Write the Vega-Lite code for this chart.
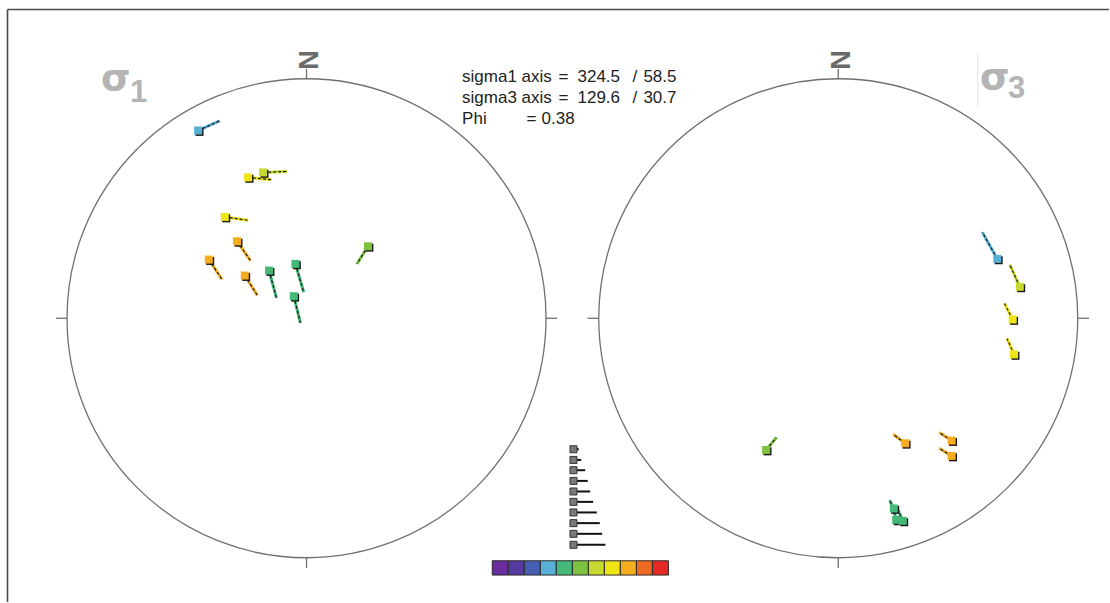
{
  "$schema": "https://vega.github.io/schema/vega-lite/v6.json",
  "width": 1110,
  "height": 603,
  "autosize": {"type": "fit", "contains": "padding"},
  "padding": 0,
  "background": "white",
  "config": {"view": {"stroke": null}},
  "datasets": {
    "frame": [
      {"x": 7.5, "y": 9.5, "x2": 1110, "y2": 9.5},
      {"x": 7.5, "y": 9.5, "x2": 7.5, "y2": 603}
    ],
    "circles": [
      {"net": "sigma1", "x": 306.8, "y": 318.8},
      {"net": "sigma3", "x": 839, "y": 318.8}
    ],
    "ticks": [
      {"x": 306.8, "y": 79.5, "x2": 306.8, "y2": 69},
      {"x": 56, "y": 318.8, "x2": 67.3, "y2": 318.8},
      {"x": 546.3, "y": 318.8, "x2": 557.5, "y2": 318.8},
      {"x": 306.8, "y": 558.3, "x2": 306.8, "y2": 569},
      {"x": 839, "y": 79.5, "x2": 839, "y2": 69},
      {"x": 588, "y": 318.8, "x2": 599.5, "y2": 318.8},
      {"x": 1078.5, "y": 318.8, "x2": 1090, "y2": 318.8},
      {"x": 839, "y": 558.3, "x2": 839, "y2": 569}
    ],
    "north": [
      {"x": 307.5, "y": 60, "t": "N"},
      {"x": 839.5, "y": 60, "t": "N"}
    ],
    "sigma": [
      {"x": 101, "y": 90, "t": "σ"},
      {"x": 981, "y": 89, "t": "σ"}
    ],
    "sub": [
      {"x": 130, "y": 102, "t": "1"},
      {"x": 1009, "y": 98, "t": "3"}
    ],
    "divider": [
      {"x": 978.6, "y": 53, "x2": 978.6, "y2": 107}
    ],
    "info": [
      {"x": 462.5, "y": 82, "t": "sigma1 axis"},
      {"x": 559, "y": 82, "t": "="},
      {"x": 578, "y": 82, "t": "324.5"},
      {"x": 633, "y": 82, "t": "/"},
      {"x": 644, "y": 82, "t": "58.5"},
      {"x": 462.5, "y": 103, "t": "sigma3 axis"},
      {"x": 559, "y": 103, "t": "="},
      {"x": 578, "y": 103, "t": "129.6"},
      {"x": 633, "y": 103, "t": "/"},
      {"x": 644, "y": 103, "t": "30.7"},
      {"x": 462.5, "y": 124, "t": "Phi"},
      {"x": 527, "y": 124, "t": "="},
      {"x": 542, "y": 124, "t": "0.38"}
    ],
    "poles": [
      {"net": "sigma1", "cls": 4, "x": 198.3, "y": 130.7, "x2": 220, "y2": 121},
      {"net": "sigma1", "cls": 8, "x": 248.3, "y": 177.7, "x2": 271.7, "y2": 180},
      {"net": "sigma1", "cls": 7, "x": 263.3, "y": 172.7, "x2": 287.3, "y2": 171.7},
      {"net": "sigma1", "cls": 8, "x": 225, "y": 217.3, "x2": 248.3, "y2": 220.7},
      {"net": "sigma1", "cls": 9, "x": 237.3, "y": 241.7, "x2": 250.7, "y2": 261},
      {"net": "sigma1", "cls": 9, "x": 209, "y": 260, "x2": 222.3, "y2": 280},
      {"net": "sigma1", "cls": 9, "x": 245, "y": 276, "x2": 257.7, "y2": 296},
      {"net": "sigma1", "cls": 5, "x": 269.3, "y": 271, "x2": 276.7, "y2": 298.3},
      {"net": "sigma1", "cls": 5, "x": 295.7, "y": 264.3, "x2": 304, "y2": 292.7},
      {"net": "sigma1", "cls": 5, "x": 294, "y": 296.7, "x2": 300.7, "y2": 323.3},
      {"net": "sigma1", "cls": 6, "x": 368.3, "y": 246.7, "x2": 357.3, "y2": 264.3},
      {"net": "sigma3", "cls": 4, "x": 998.2, "y": 259.3, "x2": 983.2, "y2": 232.7},
      {"net": "sigma3", "cls": 7, "x": 1020.7, "y": 287.3, "x2": 1010.7, "y2": 265},
      {"net": "sigma3", "cls": 8, "x": 1013.6, "y": 320, "x2": 1005.4, "y2": 304},
      {"net": "sigma3", "cls": 8, "x": 1015, "y": 355, "x2": 1007.9, "y2": 339.3},
      {"net": "sigma3", "cls": 6, "x": 766.8, "y": 450.7, "x2": 777.1, "y2": 438.3},
      {"net": "sigma3", "cls": 9, "x": 906, "y": 444, "x2": 893.9, "y2": 435},
      {"net": "sigma3", "cls": 9, "x": 952.5, "y": 441.3, "x2": 940, "y2": 433.3},
      {"net": "sigma3", "cls": 9, "x": 952.5, "y": 456.7, "x2": 940, "y2": 449},
      {"net": "sigma3", "cls": 5, "x": 894.6, "y": 509.3, "x2": 890.4, "y2": 501},
      {"net": "sigma3", "cls": 5, "x": 897, "y": 520.7, "x2": 894.6, "y2": 511},
      {"net": "sigma3", "cls": 5, "x": 903.6, "y": 521.7, "x2": 899, "y2": 511}
    ],
    "ticklegend": [
      {"x": 574, "y": 450, "x2": 579.3},
      {"x": 574, "y": 460.7, "x2": 581.7},
      {"x": 574, "y": 471, "x2": 585.7},
      {"x": 574, "y": 481.7, "x2": 588.3},
      {"x": 574, "y": 492.3, "x2": 590.7},
      {"x": 574, "y": 502.7, "x2": 593.7},
      {"x": 574, "y": 513.3, "x2": 597.3},
      {"x": 574, "y": 524, "x2": 600.3},
      {"x": 574, "y": 534.7, "x2": 602.7},
      {"x": 574, "y": 545.7, "x2": 606}
    ],
    "colorbar": [
      {"cls": 1, "x": 492.7, "x2": 508.7, "y": 561.7, "y2": 576},
      {"cls": 2, "x": 508.7, "x2": 524.8, "y": 561.7, "y2": 576},
      {"cls": 3, "x": 524.8, "x2": 540.8, "y": 561.7, "y2": 576},
      {"cls": 4, "x": 540.8, "x2": 556.8, "y": 561.7, "y2": 576},
      {"cls": 5, "x": 556.8, "x2": 572.9, "y": 561.7, "y2": 576},
      {"cls": 6, "x": 572.9, "x2": 588.9, "y": 561.7, "y2": 576},
      {"cls": 7, "x": 588.9, "x2": 604.9, "y": 561.7, "y2": 576},
      {"cls": 8, "x": 604.9, "x2": 620.9, "y": 561.7, "y2": 576},
      {"cls": 9, "x": 620.9, "x2": 637, "y": 561.7, "y2": 576},
      {"cls": 10, "x": 637, "x2": 653, "y": 561.7, "y2": 576},
      {"cls": 11, "x": 653, "x2": 669, "y": 561.7, "y2": 576}
    ]
  },
  "layer": [
    {
      "data": {"name": "frame"},
      "mark": {"type": "rule", "stroke": "#4a4a4a", "strokeWidth": 1.6},
      "encoding": {
        "x": {"field": "x", "type": "quantitative", "scale": {"domain": [0, 1110], "nice": false, "zero": false}, "axis": null},
        "y": {"field": "y", "type": "quantitative", "scale": {"domain": [0, 603], "reverse": true, "nice": false, "zero": false}, "axis": null},
        "x2": {"field": "x2"},
        "y2": {"field": "y2"}
      }
    },
    {
      "data": {"name": "circles"},
      "mark": {"type": "point", "shape": "circle", "filled": false, "size": 229441, "stroke": "#707070", "strokeWidth": 1.3, "opacity": 1},
      "encoding": {
        "x": {"field": "x", "type": "quantitative"},
        "y": {"field": "y", "type": "quantitative"}
      }
    },
    {
      "data": {"name": "ticks"},
      "mark": {"type": "rule", "stroke": "#707070", "strokeWidth": 1.3},
      "encoding": {
        "x": {"field": "x", "type": "quantitative"},
        "y": {"field": "y", "type": "quantitative"},
        "x2": {"field": "x2"},
        "y2": {"field": "y2"}
      }
    },
    {
      "data": {"name": "divider"},
      "mark": {"type": "rule", "stroke": "#e2e2e2", "strokeWidth": 1},
      "encoding": {
        "x": {"field": "x", "type": "quantitative"},
        "y": {"field": "y", "type": "quantitative"},
        "x2": {"field": "x2"},
        "y2": {"field": "y2"}
      }
    },
    {
      "data": {"name": "north"},
      "mark": {"type": "text", "angle": 90, "align": "center", "baseline": "middle", "font": "Liberation Sans", "fontWeight": "bold", "fontSize": 27, "fill": "#6a6a6a"},
      "encoding": {
        "x": {"field": "x", "type": "quantitative"},
        "y": {"field": "y", "type": "quantitative"},
        "text": {"field": "t"}
      }
    },
    {
      "data": {"name": "sigma"},
      "mark": {"type": "text", "align": "left", "baseline": "alphabetic", "font": "DejaVu Sans", "fontWeight": "bold", "fontSize": 38, "fill": "#b4b4b4"},
      "encoding": {
        "x": {"field": "x", "type": "quantitative"},
        "y": {"field": "y", "type": "quantitative"},
        "text": {"field": "t"}
      }
    },
    {
      "data": {"name": "sub"},
      "mark": {"type": "text", "align": "left", "baseline": "alphabetic", "font": "Liberation Sans", "fontWeight": "bold", "fontSize": 31, "fill": "#b4b4b4"},
      "encoding": {
        "x": {"field": "x", "type": "quantitative"},
        "y": {"field": "y", "type": "quantitative"},
        "text": {"field": "t"}
      }
    },
    {
      "data": {"name": "info"},
      "mark": {"type": "text", "align": "left", "baseline": "alphabetic", "font": "Liberation Sans", "fontSize": 17, "fill": "#222222"},
      "encoding": {
        "x": {"field": "x", "type": "quantitative"},
        "y": {"field": "y", "type": "quantitative"},
        "text": {"field": "t"}
      }
    },
    {
      "data": {"name": "poles"},
      "mark": {"type": "rule", "strokeWidth": 3, "opacity": 1},
      "encoding": {
        "x": {"field": "x", "type": "quantitative"},
        "y": {"field": "y", "type": "quantitative"},
        "x2": {"field": "x2"},
        "y2": {"field": "y2"},
        "color": {
          "field": "cls",
          "type": "ordinal",
          "scale": {
            "domain": [1, 2, 3, 4, 5, 6, 7, 8, 9, 10, 11],
            "range": ["#6a2c9f", "#573a9f", "#4560b0", "#58b0d6", "#45b978", "#7dc242", "#c6d92e", "#efe416", "#f5ac1e", "#ef6a23", "#e42a25"]
          },
          "legend": null
        }
      }
    },
    {
      "data": {"name": "poles"},
      "mark": {"type": "rule", "strokeWidth": 1.1, "strokeDash": [3, 2], "stroke": "#111111"},
      "encoding": {
        "x": {"field": "x", "type": "quantitative"},
        "y": {"field": "y", "type": "quantitative"},
        "x2": {"field": "x2"},
        "y2": {"field": "y2"}
      }
    },
    {
      "data": {"name": "poles"},
      "mark": {"type": "point", "shape": "square", "filled": true, "size": 64, "fill": "#1a1a1a", "opacity": 1, "xOffset": 1.4, "yOffset": 1.4},
      "encoding": {
        "x": {"field": "x", "type": "quantitative"},
        "y": {"field": "y", "type": "quantitative"}
      }
    },
    {
      "data": {"name": "poles"},
      "mark": {"type": "point", "shape": "square", "filled": true, "size": 64, "opacity": 1},
      "encoding": {
        "x": {"field": "x", "type": "quantitative"},
        "y": {"field": "y", "type": "quantitative"},
        "color": {"field": "cls", "type": "ordinal", "legend": null}
      }
    },
    {
      "data": {"name": "ticklegend"},
      "mark": {"type": "rule", "stroke": "#111111", "strokeWidth": 2},
      "encoding": {
        "x": {"field": "x", "type": "quantitative"},
        "y": {"field": "y", "type": "quantitative"},
        "x2": {"field": "x2"}
      }
    },
    {
      "data": {"name": "ticklegend"},
      "mark": {"type": "point", "shape": "square", "filled": true, "size": 49, "fill": "#7a7a7a", "stroke": "#333333", "strokeWidth": 1, "opacity": 1},
      "encoding": {
        "x": {"field": "x", "type": "quantitative"},
        "y": {"field": "y", "type": "quantitative"}
      }
    },
    {
      "data": {"name": "colorbar"},
      "mark": {"type": "rect", "stroke": "#2a2a2a", "strokeWidth": 1, "opacity": 1},
      "encoding": {
        "x": {"field": "x", "type": "quantitative"},
        "y": {"field": "y", "type": "quantitative"},
        "x2": {"field": "x2"},
        "y2": {"field": "y2"},
        "color": {"field": "cls", "type": "ordinal", "legend": null}
      }
    }
  ]
}
